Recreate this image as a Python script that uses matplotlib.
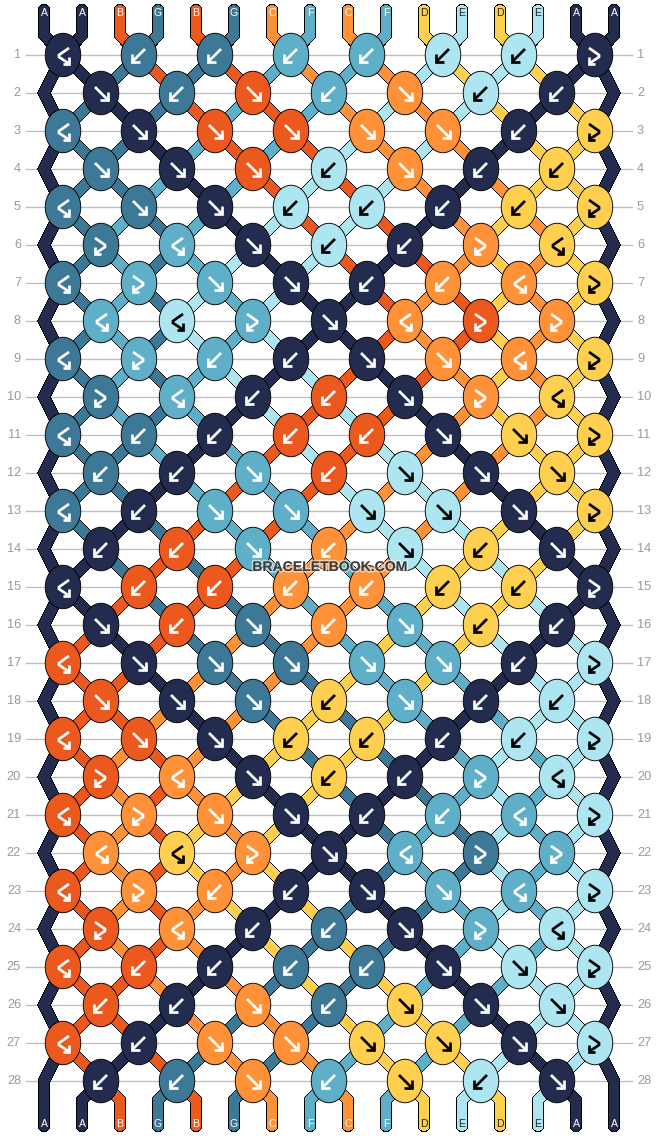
import matplotlib
matplotlib.use("Agg")
import matplotlib.pyplot as plt
import matplotlib.patheffects as pe
from matplotlib.patches import Ellipse

# ---- data -----------------------------------------------------------
STRANDS_TOP = list("AABGBGCFCFDEDEAA")
COLORS = {"A": "#232C4E", "B": "#EC591E", "C": "#FF9239", "D": "#FFD050",
          "E": "#ADE6F1", "F": "#5EAFC7", "G": "#3E7897"}
DARK_ARROW = {"D", "E"}
# r = forward knot, l = backward knot, R/L = hooked (strands stay in place)
KNOT_ROWS = [
    "LllllllR", "rlrlrll", "LrrrrrlR", "rrrlrll", "LrrllllR", "RLrllRL", "LRrrllLR",
    "LLRrLRR", "LRllrrLR", "RLllrRL", "LllllrrR", "llrlrrr", "LlrrrrrR", "llrlrlr",
    "LllllllR", "rlrlrll", "LrrrrrlR", "rrrlrll", "LrrllllR", "RLrllRL", "LRrrllLR",
    "LLRrLRR", "LRllrrLR", "RLllrRL", "LllllrrR", "llrlrrr", "LlrrrrrR", "llrlrlr",
]
ROW_LABELS = list(range(1, 29))
WATERMARK = "BRACELETBOOK.COM"

# ---- layout ---------------------------------------------------------
W, H = 658, 1136
X0, DX = 44, 38          # strand column
Y0, DY = 55, 38          # first row, row pitch
TOP, BOTTOM = 10, 1126
KW, KH = 35.5, 43.5
px = 72 / 100

fig = plt.figure(figsize=(W / 100, H / 100), dpi=100)
ax = fig.add_axes([0, 0, 1, 1])
ax.set_xlim(0, W); ax.set_ylim(H, 0); ax.axis("off")
FONT = "Liberation Sans"

def sx(p):
    return X0 + DX * p

def ky(r):
    return Y0 + DY * r

def strand(xs, ys, letter):
    ax.plot(xs, ys, color="black", lw=11 * px, solid_capstyle="round",
            solid_joinstyle="miter", antialiased=False, zorder=2)
    ax.plot(xs, ys, color=COLORS[letter], lw=9 * px, solid_capstyle="round",
            solid_joinstyle="miter", antialiased=False, zorder=2)

def arrow(cx, cy, kind, dark):
    fg = "black" if dark else "white"
    if kind == "r":
        parts = [([-6, 6], [-6, 6]), ([7, 7, -1], [-1, 7, 7])]
    elif kind == "l":
        parts = [([6, -6], [-6, 6]), ([-7, -7, 1], [-1, 7, 7])]
    elif kind == "L":
        parts = [([6, -4, -4, 5], [-7, 0, 2, 8]), ([6, 6, 0], [2, 8.5, 8.5])]
    else:
        parts = [([-6, 4, 4, -5], [-7, 0, 2, 8]), ([-6, -6, 0], [2, 8.5, 8.5])]
    for xs, ys in parts:
        ax.plot([cx + v for v in xs], [cy + v for v in ys], color=fg, lw=2.7 * px,
                solid_capstyle="butt", solid_joinstyle="miter", zorder=5)

# grid and row numbers
for r, lab in enumerate(ROW_LABELS):
    ax.plot([26, 632], [ky(r), ky(r)], color="#BDBDBD", lw=1.3 * px, zorder=1)
    ax.text(21, ky(r), str(lab), ha="right", va="center", fontsize=9.2, color="#999999", family=FONT)
    ax.text(637, ky(r), str(lab), ha="left", va="center", fontsize=9.2, color="#999999", family=FONT)

# top strand stubs and labels
state = list(STRANDS_TOP)
for p, c in enumerate(state):
    kx = sx(p - p % 2) + DX / 2
    strand([sx(p), sx(p), kx], [TOP, Y0 - 20, Y0], c)
    ax.text(sx(p), 12.5, c, ha="center", va="center", fontsize=7.6,
            color="#222222" if c in DARK_ARROW else "white", family=FONT, zorder=6)

# knots row by row
for r, row in enumerate(KNOT_ROWS):
    start = 0 if r % 2 == 0 else 1
    for i, kind in enumerate(row):
        a = start + 2 * i
        left, right = state[a], state[a + 1]
        col = left if kind in "rR" else right
        cx = sx(a) + DX / 2
        cy = ky(r)
        ax.add_patch(Ellipse((cx, cy), KW, KH, facecolor=COLORS[col], edgecolor="black",
                             lw=0.9 * px, zorder=3))
        arrow(cx, cy, kind, col in DARK_ARROW)
        if kind in "rl":
            state[a], state[a + 1] = right, left
    # segments leaving this row
    if r + 1 < len(KNOT_ROWS):
        for i in range(len(row)):
            a = start + 2 * i
            cx = sx(a) + DX / 2
            for p, nx in ((a, cx - DX), (a + 1, cx + DX)):
                if sx(0) < nx < sx(15):
                    strand([cx, nx], [ky(r), ky(r + 1)], state[p])
        if r % 2 == 0 and r + 2 < len(KNOT_ROWS):
            for p, edge in ((0, sx(0) + DX / 2), (15, sx(15) - DX / 2)):
                strand([edge, sx(p), edge], [ky(r), ky(r + 1), ky(r + 2)], state[p])

# bottom stubs and labels
last = len(KNOT_ROWS) - 1
for p, c in enumerate(state):
    if p in (0, 15):
        kx = sx(0) + DX / 2 if p == 0 else sx(15) - DX / 2
        strand([kx, sx(p), sx(p)], [ky(last - 1), ky(last), BOTTOM], c)
    else:
        kx = sx(p) + DX / 2 if p % 2 == 1 else sx(p - 1) + DX / 2
        strand([kx, sx(p), sx(p)], [ky(last), ky(last) + 19, BOTTOM], c)
    ax.text(sx(p), 1124, c, ha="center", va="center", fontsize=7.6,
            color="#222222" if c in DARK_ARROW else "white", family=FONT, zorder=6)

# watermark
ax.text(329.5, 567, WATERMARK, ha="center", va="center", fontsize=10.1, fontweight="bold",
        color="#3C3C3C", family=FONT, zorder=8,
        path_effects=[pe.withStroke(linewidth=2.2, foreground=(1, 1, 1, 0.55))])

fig.savefig("out.png", dpi=100)
